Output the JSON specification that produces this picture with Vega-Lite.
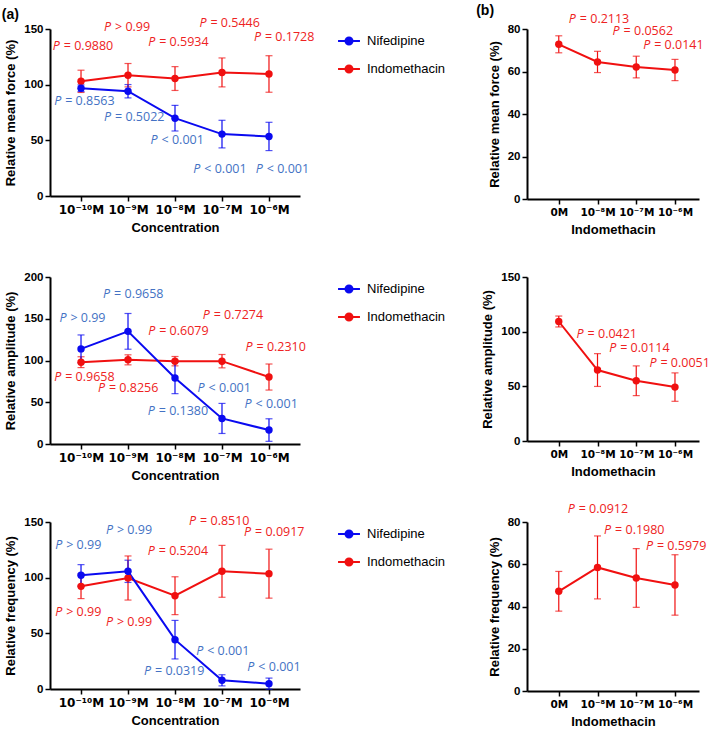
{
  "$schema": "https://vega.github.io/schema/vega-lite/v6.json",
  "padding": {"left": 1, "top": 3, "right": 0, "bottom": 0},
  "background": "white",
  "config": {
    "view": {"stroke": null},
    "axis": {
      "grid": false,
      "domainColor": "#000000",
      "domainWidth": 2,
      "tickColor": "#000000",
      "tickWidth": 1.5,
      "tickSize": 5,
      "labelColor": "#000000",
      "labelFont": "Liberation Sans",
      "labelFontWeight": "bold",
      "labelFontSize": 11.5,
      "labelPadding": 2,
      "titleColor": "#000000",
      "titleFont": "Liberation Sans",
      "titleFontWeight": "bold",
      "titleFontSize": 13
    },
    "axisX": {"labelFont": "DejaVu Sans", "labelFontSize": 12, "labelPadding": 3, "labelOverlap": false, "labelBound": false},
    "legend": {
      "labelFont": "Liberation Sans",
      "labelFontSize": 13,
      "labelColor": "#000000",
      "symbolType": "M-1,0H1M-0.32,0A0.32,0.32,0,1,1,0.32,0A0.32,0.32,0,1,1,-0.32,0Z",
      "symbolSize": 480,
      "symbolStrokeWidth": 2,
      "symbolOpacity": 1,
      "rowPadding": 8,
      "labelOffset": 6,
      "padding": 0,
      "offset": 37
    },
    "title": {"font": "Liberation Sans", "fontWeight": "bold", "fontSize": 14, "color": "#000000"}
  },
  "datasets": {
    "aForce": [
      {"drug": "Indomethacin", "i": 0, "mean": 103, "sd": 10},
      {"drug": "Indomethacin", "i": 1, "mean": 108.5, "sd": 10.5},
      {"drug": "Indomethacin", "i": 2, "mean": 105.5, "sd": 10.7},
      {"drug": "Indomethacin", "i": 3, "mean": 111, "sd": 13},
      {"drug": "Indomethacin", "i": 4, "mean": 109.6, "sd": 16.4},
      {"drug": "Nifedipine", "i": 0, "mean": 96.8, "sd": 3},
      {"drug": "Nifedipine", "i": 1, "mean": 94.1, "sd": 6},
      {"drug": "Nifedipine", "i": 2, "mean": 69.9, "sd": 11.5},
      {"drug": "Nifedipine", "i": 3, "mean": 55.6, "sd": 12.4},
      {"drug": "Nifedipine", "i": 4, "mean": 53.5, "sd": 12.7}
    ],
    "aForceP": [
      {"drug": "Indomethacin", "lx": -0.6, "ly": 135.0, "txt": "= 0.9880"},
      {"drug": "Indomethacin", "lx": 0.49, "ly": 151.5, "txt": "> 0.99"},
      {"drug": "Indomethacin", "lx": 1.43, "ly": 138.4, "txt": "= 0.5934"},
      {"drug": "Indomethacin", "lx": 2.52, "ly": 155.4, "txt": "= 0.5446"},
      {"drug": "Indomethacin", "lx": 3.68, "ly": 142.5, "txt": "= 0.1728"},
      {"drug": "Nifedipine", "lx": -0.57, "ly": 85.2, "txt": "= 0.8563"},
      {"drug": "Nifedipine", "lx": 0.49, "ly": 70.8, "txt": "= 0.5022"},
      {"drug": "Nifedipine", "lx": 1.48, "ly": 49.9, "txt": "< 0.001"},
      {"drug": "Nifedipine", "lx": 2.39, "ly": 24.5, "txt": "< 0.001"},
      {"drug": "Nifedipine", "lx": 3.72, "ly": 24.5, "txt": "< 0.001"}
    ],
    "aAmp": [
      {"drug": "Indomethacin", "i": 0, "mean": 98, "sd": 6.5},
      {"drug": "Indomethacin", "i": 1, "mean": 100.8, "sd": 6},
      {"drug": "Indomethacin", "i": 2, "mean": 99.2, "sd": 5.6},
      {"drug": "Indomethacin", "i": 3, "mean": 99.2, "sd": 8},
      {"drug": "Indomethacin", "i": 4, "mean": 80.2, "sd": 15.6},
      {"drug": "Nifedipine", "i": 0, "mean": 113.9, "sd": 16.7},
      {"drug": "Nifedipine", "i": 1, "mean": 134.9, "sd": 21.4},
      {"drug": "Nifedipine", "i": 2, "mean": 79, "sd": 18.7},
      {"drug": "Nifedipine", "i": 3, "mean": 30.6, "sd": 18},
      {"drug": "Nifedipine", "i": 4, "mean": 16.7, "sd": 13.5}
    ],
    "aAmpP": [
      {"drug": "Nifedipine", "lx": -0.46, "ly": 150.8, "txt": "> 0.99"},
      {"drug": "Nifedipine", "lx": 0.47, "ly": 179.4, "txt": "= 0.9658"},
      {"drug": "Indomethacin", "lx": 1.43, "ly": 134.9, "txt": "= 0.6079"},
      {"drug": "Indomethacin", "lx": 2.59, "ly": 154.8, "txt": "= 0.7274"},
      {"drug": "Indomethacin", "lx": 3.5, "ly": 116.7, "txt": "= 0.2310"},
      {"drug": "Indomethacin", "lx": -0.57, "ly": 80.2, "txt": "= 0.9658"},
      {"drug": "Indomethacin", "lx": 0.36, "ly": 67.5, "txt": "= 0.8256"},
      {"drug": "Nifedipine", "lx": 1.42, "ly": 39.7, "txt": "= 0.1380"},
      {"drug": "Nifedipine", "lx": 2.48, "ly": 67.5, "txt": "< 0.001"},
      {"drug": "Nifedipine", "lx": 3.48, "ly": 47.6, "txt": "< 0.001"}
    ],
    "aFreq": [
      {"drug": "Indomethacin", "i": 0, "mean": 92.2, "sd": 11},
      {"drug": "Indomethacin", "i": 1, "mean": 99.7, "sd": 19.8},
      {"drug": "Indomethacin", "i": 2, "mean": 83.8, "sd": 17},
      {"drug": "Indomethacin", "i": 3, "mean": 105.7, "sd": 23.3},
      {"drug": "Indomethacin", "i": 4, "mean": 103.6, "sd": 22},
      {"drug": "Nifedipine", "i": 0, "mean": 102.1, "sd": 9.6},
      {"drug": "Nifedipine", "i": 1, "mean": 105.7, "sd": 10},
      {"drug": "Nifedipine", "i": 2, "mean": 44.3, "sd": 17.3},
      {"drug": "Nifedipine", "i": 3, "mean": 7.8, "sd": 5},
      {"drug": "Nifedipine", "i": 4, "mean": 4.8, "sd": 5}
    ],
    "aFreqP": [
      {"drug": "Nifedipine", "lx": -0.55, "ly": 129.6, "txt": "> 0.99"},
      {"drug": "Nifedipine", "lx": 0.53, "ly": 142.5, "txt": "> 0.99"},
      {"drug": "Indomethacin", "lx": 1.42, "ly": 124.3, "txt": "= 0.5204"},
      {"drug": "Indomethacin", "lx": 2.3, "ly": 150.6, "txt": "= 0.8510"},
      {"drug": "Indomethacin", "lx": 3.47, "ly": 141.0, "txt": "= 0.0917"},
      {"drug": "Indomethacin", "lx": -0.55, "ly": 68.9, "txt": "> 0.99"},
      {"drug": "Indomethacin", "lx": 0.53, "ly": 59.9, "txt": "> 0.99"},
      {"drug": "Nifedipine", "lx": 1.34, "ly": 16.5, "txt": "= 0.0319"},
      {"drug": "Nifedipine", "lx": 2.45, "ly": 33.8, "txt": "< 0.001"},
      {"drug": "Nifedipine", "lx": 3.54, "ly": 19.5, "txt": "< 0.001"}
    ],
    "bForce": [
      {"i": 0, "mean": 72.8, "sd": 4},
      {"i": 1, "mean": 64.5, "sd": 5},
      {"i": 2, "mean": 62.1, "sd": 5.1},
      {"i": 3, "mean": 60.7, "sd": 5}
    ],
    "bForceP": [
      {"lx": 0.26, "ly": 84.9, "txt": "= 0.2113"},
      {"lx": 1.39, "ly": 78.9, "txt": "= 0.0562"},
      {"lx": 2.18, "ly": 72.3, "txt": "= 0.0141"}
    ],
    "bAmp": [
      {"i": 0, "mean": 109.3, "sd": 5},
      {"i": 1, "mean": 64.9, "sd": 15},
      {"i": 2, "mean": 55.1, "sd": 13.6},
      {"i": 3, "mean": 49.3, "sd": 13}
    ],
    "bAmpP": [
      {"lx": 0.46, "ly": 97.9, "txt": "= 0.0421"},
      {"lx": 1.3, "ly": 84.8, "txt": "= 0.0114"},
      {"lx": 2.34, "ly": 71.6, "txt": "= 0.0051"}
    ],
    "bFreq": [
      {"i": 0, "mean": 47.2, "sd": 9.4},
      {"i": 1, "mean": 58.5, "sd": 14.9},
      {"i": 2, "mean": 53.5, "sd": 13.9},
      {"i": 3, "mean": 50.2, "sd": 14.3}
    ],
    "bFreqP": [
      {"lx": 0.23, "ly": 86.0, "txt": "= 0.0912"},
      {"lx": 1.17, "ly": 76.4, "txt": "= 0.1980"},
      {"lx": 2.25, "ly": 68.6, "txt": "= 0.5979"}
    ]
  },
  "resolve": {"scale": {"color": "independent", "fill": "independent"}, "legend": {"color": "independent"}},
  "columns": 2,
  "align": "each",
  "bounds": "flush",
  "spacing": {"row": 78, "column": 227},
  "concat": [
    {
      "width": 250, "height": 167,
      "title": {"text": "(a)", "anchor": "start", "frame": "bounds", "dx": -3, "offset": -5},
      "layer": [
        {"data": {"name": "aForce"}, "mark": {"type": "errorbar", "ticks": {"size": 7}, "thickness": 1.2},
         "encoding": {
           "x": {"field": "i", "type": "quantitative", "scale": {"domain": [-0.66, 4.66], "nice": false, "zero": false},
                 "axis": {"values": [0, 1, 2, 3, 4], "title": "Concentration", "labelExpr": "['10⁻¹⁰M','10⁻⁹M','10⁻⁸M','10⁻⁷M','10⁻⁶M'][datum.value]", "titlePadding": 6}},
           "y": {"field": "mean", "type": "quantitative", "scale": {"domain": [0, 150], "nice": false},
                 "axis": {"values": [0, 50, 100, 150], "title": "Relative mean force (%)", "titlePadding": 6}},
           "yError": {"field": "sd"},
           "color": {"field": "drug", "type": "nominal", "scale": {"domain": ["Nifedipine", "Indomethacin"], "range": ["#0A0AF0", "#F01010"]}, "legend": {"title": null, "orient": "right"}}
         }},
        {"data": {"name": "aForce"}, "mark": {"type": "line", "strokeWidth": 2},
         "encoding": {"x": {"field": "i", "type": "quantitative"}, "y": {"field": "mean", "type": "quantitative"}, "color": {"field": "drug", "type": "nominal"}}},
        {"data": {"name": "aForce"}, "mark": {"type": "point", "filled": true, "size": 55, "opacity": 1},
         "encoding": {"x": {"field": "i", "type": "quantitative"}, "y": {"field": "mean", "type": "quantitative"}, "color": {"field": "drug", "type": "nominal"}}},
        {"data": {"name": "aForceP"}, "mark": {"type": "text", "text": "P", "font": "Open Sans", "fontSize": 12.5, "fontStyle": "italic", "align": "left", "baseline": "middle"},
         "encoding": {"x": {"field": "lx", "type": "quantitative"}, "y": {"field": "ly", "type": "quantitative"},
                      "fill": {"field": "drug", "type": "nominal", "scale": {"domain": ["Nifedipine", "Indomethacin"], "range": ["#4472C4", "#EE2222"]}, "legend": null}}},
        {"data": {"name": "aForceP"}, "mark": {"type": "text", "font": "Open Sans", "fontSize": 12.5, "align": "left", "baseline": "middle", "dx": 11},
         "encoding": {"x": {"field": "lx", "type": "quantitative"}, "y": {"field": "ly", "type": "quantitative"}, "text": {"field": "txt"},
                      "fill": {"field": "drug", "type": "nominal", "legend": null}}}
      ]
    },
    {
      "width": 172, "height": 170,
      "title": {"text": "(b)", "anchor": "start", "frame": "bounds", "dx": -12, "offset": -5},
      "layer": [
        {"data": {"name": "bForce"}, "mark": {"type": "errorbar", "ticks": {"size": 7}, "thickness": 1.2, "color": "#F01010"},
         "encoding": {
           "x": {"field": "i", "type": "quantitative", "scale": {"domain": [-0.82, 3.62], "nice": false, "zero": false},
                 "axis": {"values": [0, 1, 2, 3], "title": "Indomethacin", "labelFontSize": 10.5, "labelExpr": "['0M','10⁻⁸M','10⁻⁷M','10⁻⁶M'][datum.value]", "titlePadding": 6}},
           "y": {"field": "mean", "type": "quantitative", "scale": {"domain": [0, 80], "nice": false},
                 "axis": {"values": [0, 20, 40, 60, 80], "title": "Relative mean force (%)", "titlePadding": 6}},
           "yError": {"field": "sd"}
         }},
        {"data": {"name": "bForce"}, "mark": {"type": "line", "strokeWidth": 2, "color": "#F01010"},
         "encoding": {"x": {"field": "i", "type": "quantitative"}, "y": {"field": "mean", "type": "quantitative"}}},
        {"data": {"name": "bForce"}, "mark": {"type": "point", "filled": true, "size": 55, "opacity": 1, "color": "#F01010"},
         "encoding": {"x": {"field": "i", "type": "quantitative"}, "y": {"field": "mean", "type": "quantitative"}}},
        {"data": {"name": "bForceP"}, "mark": {"type": "text", "text": "P", "font": "Open Sans", "fontSize": 12.5, "fontStyle": "italic", "align": "left", "baseline": "middle", "color": "#EE2222"},
         "encoding": {"x": {"field": "lx", "type": "quantitative"}, "y": {"field": "ly", "type": "quantitative"}}},
        {"data": {"name": "bForceP"}, "mark": {"type": "text", "font": "Open Sans", "fontSize": 12.5, "align": "left", "baseline": "middle", "dx": 11, "color": "#EE2222"},
         "encoding": {"x": {"field": "lx", "type": "quantitative"}, "y": {"field": "ly", "type": "quantitative"}, "text": {"field": "txt"}}}
      ]
    },
    {
      "width": 250, "height": 167,
      "layer": [
        {"data": {"name": "aAmp"}, "mark": {"type": "errorbar", "ticks": {"size": 7}, "thickness": 1.2},
         "encoding": {
           "x": {"field": "i", "type": "quantitative", "scale": {"domain": [-0.66, 4.66], "nice": false, "zero": false},
                 "axis": {"values": [0, 1, 2, 3, 4], "title": "Concentration", "labelExpr": "['10⁻¹⁰M','10⁻⁹M','10⁻⁸M','10⁻⁷M','10⁻⁶M'][datum.value]", "titlePadding": 6}},
           "y": {"field": "mean", "type": "quantitative", "scale": {"domain": [0, 200], "nice": false},
                 "axis": {"values": [0, 50, 100, 150, 200], "title": "Relative amplitude (%)", "titlePadding": 6}},
           "yError": {"field": "sd"},
           "color": {"field": "drug", "type": "nominal", "scale": {"domain": ["Nifedipine", "Indomethacin"], "range": ["#0A0AF0", "#F01010"]}, "legend": {"title": null, "orient": "right"}}
         }},
        {"data": {"name": "aAmp"}, "mark": {"type": "line", "strokeWidth": 2},
         "encoding": {"x": {"field": "i", "type": "quantitative"}, "y": {"field": "mean", "type": "quantitative"}, "color": {"field": "drug", "type": "nominal"}}},
        {"data": {"name": "aAmp"}, "mark": {"type": "point", "filled": true, "size": 55, "opacity": 1},
         "encoding": {"x": {"field": "i", "type": "quantitative"}, "y": {"field": "mean", "type": "quantitative"}, "color": {"field": "drug", "type": "nominal"}}},
        {"data": {"name": "aAmpP"}, "mark": {"type": "text", "text": "P", "font": "Open Sans", "fontSize": 12.5, "fontStyle": "italic", "align": "left", "baseline": "middle"},
         "encoding": {"x": {"field": "lx", "type": "quantitative"}, "y": {"field": "ly", "type": "quantitative"},
                      "fill": {"field": "drug", "type": "nominal", "scale": {"domain": ["Nifedipine", "Indomethacin"], "range": ["#4472C4", "#EE2222"]}, "legend": null}}},
        {"data": {"name": "aAmpP"}, "mark": {"type": "text", "font": "Open Sans", "fontSize": 12.5, "align": "left", "baseline": "middle", "dx": 11},
         "encoding": {"x": {"field": "lx", "type": "quantitative"}, "y": {"field": "ly", "type": "quantitative"}, "text": {"field": "txt"},
                      "fill": {"field": "drug", "type": "nominal", "legend": null}}}
      ]
    },
    {
      "width": 172, "height": 164,
      "layer": [
        {"data": {"name": "bAmp"}, "mark": {"type": "errorbar", "ticks": {"size": 7}, "thickness": 1.2, "color": "#F01010"},
         "encoding": {
           "x": {"field": "i", "type": "quantitative", "scale": {"domain": [-0.82, 3.62], "nice": false, "zero": false},
                 "axis": {"values": [0, 1, 2, 3], "title": "Indomethacin", "labelFontSize": 10.5, "labelExpr": "['0M','10⁻⁸M','10⁻⁷M','10⁻⁶M'][datum.value]", "titlePadding": 6}},
           "y": {"field": "mean", "type": "quantitative", "scale": {"domain": [0, 150], "nice": false},
                 "axis": {"values": [0, 50, 100, 150], "title": "Relative amplitude (%)", "titlePadding": 6}},
           "yError": {"field": "sd"}
         }},
        {"data": {"name": "bAmp"}, "mark": {"type": "line", "strokeWidth": 2, "color": "#F01010"},
         "encoding": {"x": {"field": "i", "type": "quantitative"}, "y": {"field": "mean", "type": "quantitative"}}},
        {"data": {"name": "bAmp"}, "mark": {"type": "point", "filled": true, "size": 55, "opacity": 1, "color": "#F01010"},
         "encoding": {"x": {"field": "i", "type": "quantitative"}, "y": {"field": "mean", "type": "quantitative"}}},
        {"data": {"name": "bAmpP"}, "mark": {"type": "text", "text": "P", "font": "Open Sans", "fontSize": 12.5, "fontStyle": "italic", "align": "left", "baseline": "middle", "color": "#EE2222"},
         "encoding": {"x": {"field": "lx", "type": "quantitative"}, "y": {"field": "ly", "type": "quantitative"}}},
        {"data": {"name": "bAmpP"}, "mark": {"type": "text", "font": "Open Sans", "fontSize": 12.5, "align": "left", "baseline": "middle", "dx": 11, "color": "#EE2222"},
         "encoding": {"x": {"field": "lx", "type": "quantitative"}, "y": {"field": "ly", "type": "quantitative"}, "text": {"field": "txt"}}}
      ]
    },
    {
      "width": 250, "height": 167,
      "layer": [
        {"data": {"name": "aFreq"}, "mark": {"type": "errorbar", "ticks": {"size": 7}, "thickness": 1.2},
         "encoding": {
           "x": {"field": "i", "type": "quantitative", "scale": {"domain": [-0.66, 4.66], "nice": false, "zero": false},
                 "axis": {"values": [0, 1, 2, 3, 4], "title": "Concentration", "labelExpr": "['10⁻¹⁰M','10⁻⁹M','10⁻⁸M','10⁻⁷M','10⁻⁶M'][datum.value]", "titlePadding": 6}},
           "y": {"field": "mean", "type": "quantitative", "scale": {"domain": [0, 150], "nice": false},
                 "axis": {"values": [0, 50, 100, 150], "title": "Relative frequency (%)", "titlePadding": 6}},
           "yError": {"field": "sd"},
           "color": {"field": "drug", "type": "nominal", "scale": {"domain": ["Nifedipine", "Indomethacin"], "range": ["#0A0AF0", "#F01010"]}, "legend": {"title": null, "orient": "right"}}
         }},
        {"data": {"name": "aFreq"}, "mark": {"type": "line", "strokeWidth": 2},
         "encoding": {"x": {"field": "i", "type": "quantitative"}, "y": {"field": "mean", "type": "quantitative"}, "color": {"field": "drug", "type": "nominal"}}},
        {"data": {"name": "aFreq"}, "mark": {"type": "point", "filled": true, "size": 55, "opacity": 1},
         "encoding": {"x": {"field": "i", "type": "quantitative"}, "y": {"field": "mean", "type": "quantitative"}, "color": {"field": "drug", "type": "nominal"}}},
        {"data": {"name": "aFreqP"}, "mark": {"type": "text", "text": "P", "font": "Open Sans", "fontSize": 12.5, "fontStyle": "italic", "align": "left", "baseline": "middle"},
         "encoding": {"x": {"field": "lx", "type": "quantitative"}, "y": {"field": "ly", "type": "quantitative"},
                      "fill": {"field": "drug", "type": "nominal", "scale": {"domain": ["Nifedipine", "Indomethacin"], "range": ["#4472C4", "#EE2222"]}, "legend": null}}},
        {"data": {"name": "aFreqP"}, "mark": {"type": "text", "font": "Open Sans", "fontSize": 12.5, "align": "left", "baseline": "middle", "dx": 11},
         "encoding": {"x": {"field": "lx", "type": "quantitative"}, "y": {"field": "ly", "type": "quantitative"}, "text": {"field": "txt"},
                      "fill": {"field": "drug", "type": "nominal", "legend": null}}}
      ]
    },
    {
      "width": 172, "height": 169,
      "layer": [
        {"data": {"name": "bFreq"}, "mark": {"type": "errorbar", "ticks": {"size": 7}, "thickness": 1.2, "color": "#F01010"},
         "encoding": {
           "x": {"field": "i", "type": "quantitative", "scale": {"domain": [-0.82, 3.62], "nice": false, "zero": false},
                 "axis": {"values": [0, 1, 2, 3], "title": "Indomethacin", "labelFontSize": 10.5, "labelExpr": "['0M','10⁻⁸M','10⁻⁷M','10⁻⁶M'][datum.value]", "titlePadding": 6}},
           "y": {"field": "mean", "type": "quantitative", "scale": {"domain": [0, 80], "nice": false},
                 "axis": {"values": [0, 20, 40, 60, 80], "title": "Relative frequency (%)", "titlePadding": 6}},
           "yError": {"field": "sd"}
         }},
        {"data": {"name": "bFreq"}, "mark": {"type": "line", "strokeWidth": 2, "color": "#F01010"},
         "encoding": {"x": {"field": "i", "type": "quantitative"}, "y": {"field": "mean", "type": "quantitative"}}},
        {"data": {"name": "bFreq"}, "mark": {"type": "point", "filled": true, "size": 55, "opacity": 1, "color": "#F01010"},
         "encoding": {"x": {"field": "i", "type": "quantitative"}, "y": {"field": "mean", "type": "quantitative"}}},
        {"data": {"name": "bFreqP"}, "mark": {"type": "text", "text": "P", "font": "Open Sans", "fontSize": 12.5, "fontStyle": "italic", "align": "left", "baseline": "middle", "color": "#EE2222"},
         "encoding": {"x": {"field": "lx", "type": "quantitative"}, "y": {"field": "ly", "type": "quantitative"}}},
        {"data": {"name": "bFreqP"}, "mark": {"type": "text", "font": "Open Sans", "fontSize": 12.5, "align": "left", "baseline": "middle", "dx": 11, "color": "#EE2222"},
         "encoding": {"x": {"field": "lx", "type": "quantitative"}, "y": {"field": "ly", "type": "quantitative"}, "text": {"field": "txt"}}}
      ]
    }
  ]
}
